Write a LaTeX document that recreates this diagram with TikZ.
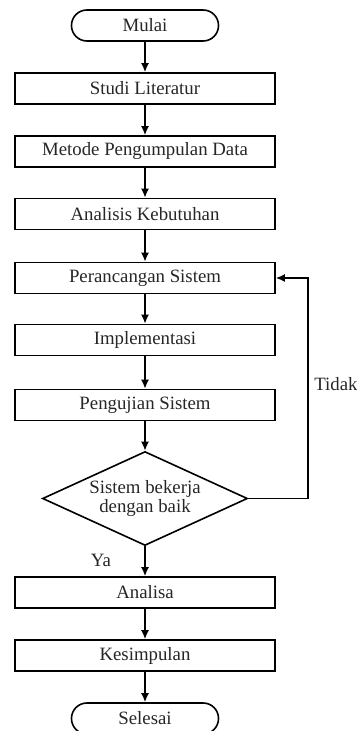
\documentclass[tikz,border=0pt]{standalone}
\usepackage{fontspec}
\setmainfont{Liberation Serif}
\usetikzlibrary{shapes.geometric,arrows.meta}

\tikzset{
  kotak/.style={draw, rectangle, line width=0.8pt, minimum width=130pt,
    minimum height=15.5pt, inner sep=0pt},
  ujung/.style={draw, rectangle, rounded corners=7.7pt, line width=0.8pt,
    minimum width=73.5pt, minimum height=15.5pt, inner sep=0pt},
  cek/.style={draw, diamond, aspect=2.2, line width=0.8pt, inner sep=0pt,
    minimum width=102.5pt, minimum height=47pt, align=center,
    font=\fontsize{9.4}{8.5}\selectfont},
  panah/.style={line width=0.8pt, -{Latex[length=4.5pt,width=4pt]}}
}

\begin{document}
\begin{tikzpicture}[x=0.5pt,y=-0.5pt,font=\fontsize{9.4}{11}\selectfont,
  text=black!85]
  \useasboundingbox (0,0) rectangle (357,731);

  \node[ujung] (mulai) at (145,25.5) {Mulai};
  \node[kotak] (studi) at (145,88.5) {Studi Literatur};
  \node[kotak] (metode) at (145,151.5) {Metode Pengumpulan Data};
  \node[kotak] (analisis) at (145,214) {Analisis Kebutuhan};
  \node[kotak] (rancang) at (145,278) {Perancangan Sistem};
  \node[kotak] (implementasi) at (145,340) {Implementasi};
  \node[kotak] (uji) at (145,405) {Pengujian Sistem};
  \node[cek] (bekerja) at (145,498.5) {Sistem bekerja\\dengan baik};
  \node[kotak] (analisa) at (145,592.5) {Analisa};
  \node[kotak] (simpul) at (145,655.5) {Kesimpulan};
  \node[ujung] (selesai) at (145,718.5) {Selesai};

  \coordinate (balik) at (308,498.5);
  \node (ya) at (101,560) {Ya};
  \node (tidak) at (336,384) {Tidak};

  \draw[panah] (mulai) -- (studi);
  \draw[panah] (studi) -- (metode);
  \draw[panah] (metode) -- (analisis);
  \draw[panah] (analisis) -- (rancang);
  \draw[panah] (rancang) -- (implementasi);
  \draw[panah] (implementasi) -- (uji);
  \draw[panah] (uji) -- (bekerja);
  \draw[panah] (bekerja) -- (analisa);
  \draw[panah] (analisa) -- (simpul);
  \draw[panah] (simpul) -- (selesai);
  \draw[panah] (bekerja.east) -- (balik) |- (rancang.east);
\end{tikzpicture}
\end{document}
